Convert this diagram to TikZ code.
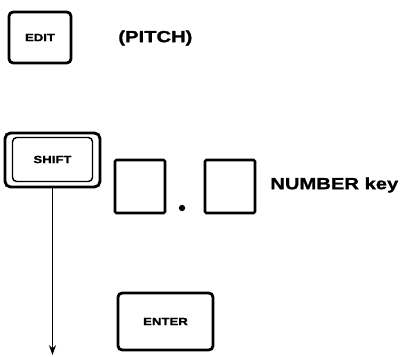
\documentclass[tikz,border=0pt]{standalone}
\usepackage{fontspec}
\setmainfont{Liberation Sans}
\newfontfamily\keyfont[FakeStretch=1.25, FakeBold=1.2]{Liberation Sans}
\usetikzlibrary{arrows.meta, positioning}

\begin{document}
\begin{tikzpicture}[
    x=0.025cm, y=-0.025cm,
    % Define styles
    key/.style={
        draw=black,
        fill=white,
        line width=2pt,
        rounded corners=3pt,
        minimum width=2.375cm,
        minimum height=1.4cm,
        font=\keyfont\bfseries\fontsize{7.5}{8}\selectfont
    },
    numkey/.style={
        draw=black,
        line width=1.8pt,
        rounded corners=1pt,
        minimum width=1.25cm,
        minimum height=1.325cm
    },
    keylabel/.style={
        font=\keyfont\bfseries\fontsize{11.5}{13}\selectfont,
        anchor=west,
        inner sep=0pt
    },
    arrow/.style={
        -{Stealth[length=7pt, width=5pt]},
        line width=1.4pt,
        black
    }
]
\useasboundingbox (0,0) rectangle (406,356);

% ============================================================
% EDIT key
% ============================================================
\node[key, minimum width=1.55cm, minimum height=1.275cm] (edit) at (40, 37.5) {EDIT};
\node[keylabel] (pitch) at (118, 38) {(PITCH)};

% ============================================================
% SHIFT key and NUMBER keys
% ============================================================
\node[key, minimum height=1.35cm, rounded corners=4pt] (shift) at (52.5, 160) {};
\node[draw=black, line width=1pt, rounded corners=3pt, minimum width=2.0cm,
    minimum height=1.1cm, font=\keyfont\bfseries\fontsize{7.5}{8}\selectfont] (shiftin) at (52.5, 159.5) {SHIFT};

\node[numkey] (numa) at (140, 186.5) {};
\node[circle, fill=black, inner sep=0pt, minimum size=4.5pt] (dot) at (182, 208) {};
\node[numkey] (numb) at (230, 186.5) {};
\node[keylabel] (number) at (270, 185) {NUMBER key};

% ============================================================
% ENTER key
% ============================================================
\node[key, minimum height=1.425cm] (enter) at (165.5, 321.5) {ENTER};

% ============================================================
% Flow arrow
% ============================================================
\coordinate (flowend) at (shift.south |- 0,355);
\draw[arrow] (shift.south) -- (flowend);

\end{tikzpicture}
\end{document}
